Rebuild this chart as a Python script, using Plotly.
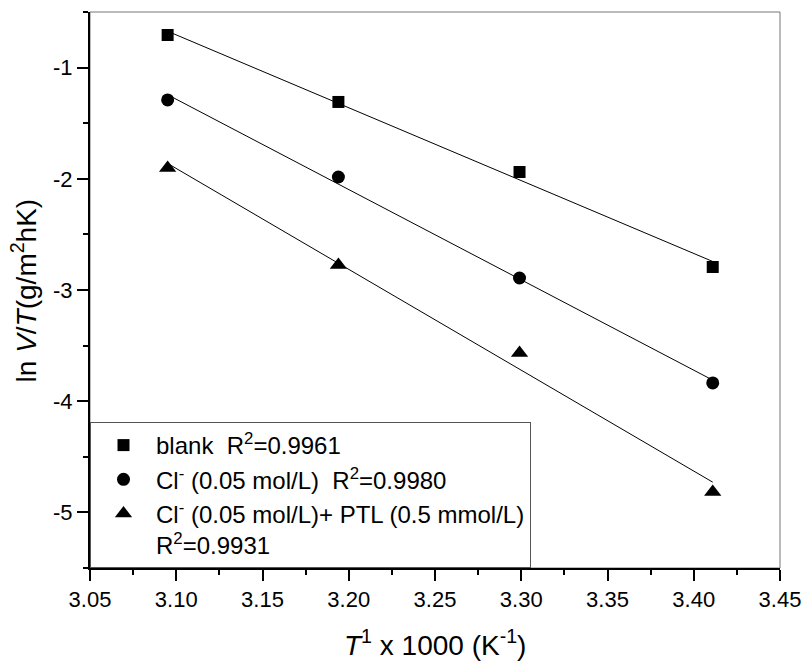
import numpy as np
import plotly.graph_objects as go

inv_T = [3.095, 3.194, 3.299, 3.411]
blank = [-0.707, -1.309, -1.939, -2.793]
chloride = [-1.291, -1.984, -2.892, -3.836]
chloride_ptl = [-1.903, -2.775, -3.567, -4.817]

series_names = [
    "blank  R<sup>2</sup>=0.9961",
    "Cl<sup>-</sup> (0.05 mol/L)  R<sup>2</sup>=0.9980",
    "Cl<sup>-</sup> (0.05 mol/L)+ PTL (0.5 mmol/L)<br>R<sup>2</sup>=0.9931",
]
symbols = ["square", "circle", "triangle-up"]
sizes = [12, 13, 15]

x_ticks = [3.05, 3.10, 3.15, 3.20, 3.25, 3.30, 3.35, 3.40, 3.45]
x_ticktext = ["3.05", "3.10", "3.15", "3.20", "3.25", "3.30", "3.35", "3.40", "3.45"]
y_ticks = [-5, -4, -3, -2, -1]
y_ticktext = ["-5", "-4", "-3", "-2", "-1"]

x_title = "<i>T</i><sup>1</sup> x 1000 (K<sup>-1</sup>)"
y_title = "ln <i>V</i>/<i>T</i>(g/m<sup>2</sup>hK)"

fig = go.Figure()
FONT = "Liberation Sans, Arial, sans-serif"

for ys, name, sym, sz in zip([blank, chloride, chloride_ptl], series_names, symbols, sizes):
    slope, icpt = np.polyfit(inv_T, ys, 1)
    fx = [inv_T[0], inv_T[-1]]
    fy = [slope * v + icpt for v in fx]
    fig.add_trace(go.Scatter(x=fx, y=fy, mode="lines", line=dict(color="black", width=1),
                             showlegend=False, hoverinfo="skip"))
    fig.add_trace(go.Scatter(x=inv_T, y=ys, mode="markers", name=name,
                             marker=dict(symbol=sym, size=sz, color="black")))

axis_common = dict(showgrid=False, zeroline=False, showline=True, linecolor="black", linewidth=2,
                   ticks="outside", ticklen=11, tickwidth=2, tickcolor="black", automargin=False,
                   tickfont=dict(family=FONT, size=22, color="black"))

fig.update_xaxes(range=[3.05, 3.45], tickvals=x_ticks, ticktext=x_ticktext,
                 minor=dict(ticks="outside", ticklen=5, tickwidth=2, tickcolor="black", dtick=0.025, tick0=3.05),
                 **axis_common)
fig.update_yaxes(range=[-5.5, -0.5], tickvals=y_ticks, ticktext=y_ticktext,
                 minor=dict(ticks="outside", ticklen=5, tickwidth=2, tickcolor="black", dtick=0.5, tick0=-0.5),
                 **axis_common)

fig.add_shape(type="rect", xref="paper", yref="paper", x0=0, x1=1, y0=0, y1=1,
              line=dict(color="#777777", width=1), layer="below")

fig.add_annotation(text=x_title, xref="paper", yref="paper", x=0.5, y=-0.135,
                   xanchor="center", yanchor="middle", showarrow=False,
                   font=dict(family=FONT, size=28, color="black"))
fig.add_annotation(text=y_title, xref="paper", yref="paper", x=-0.095, y=0.5,
                   xanchor="center", yanchor="middle", showarrow=False, textangle=-90,
                   font=dict(family=FONT, size=28, color="black"))

fig.update_layout(
    width=803, height=662,
    margin=dict(l=90, r=23, t=12, b=94, autoexpand=False),
    plot_bgcolor="white", paper_bgcolor="white",
    font=dict(family=FONT, color="black"),
    legend=dict(x=0, y=0, xanchor="left", yanchor="bottom",
                bordercolor="#555555", borderwidth=1, bgcolor="rgba(255,255,255,0)",
                font=dict(family=FONT, size=24, color="black"),
                valign="top", tracegroupgap=0, itemwidth=55),
)

fig.write_html("out.html")
